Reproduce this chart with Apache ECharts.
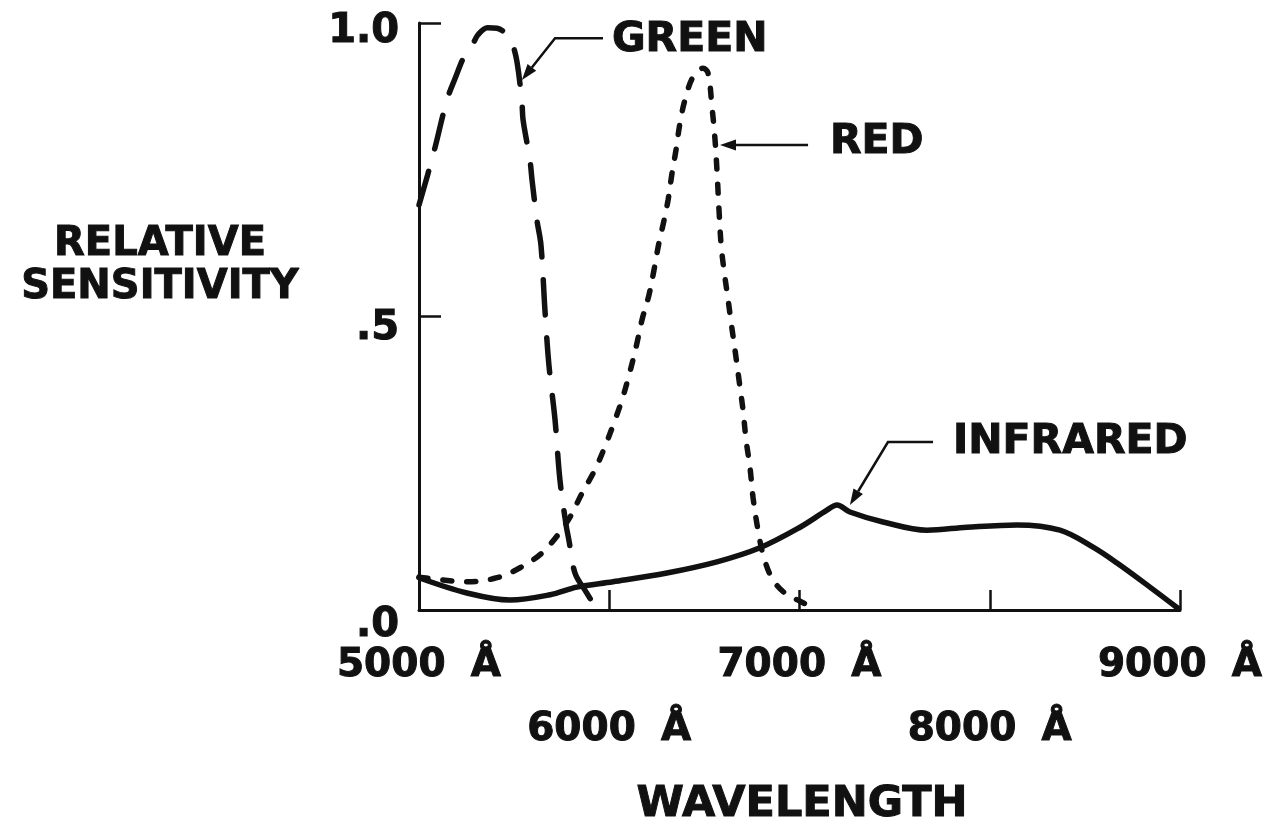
<!DOCTYPE html>
<html><head><meta charset="utf-8">
<script src="https://cdn.jsdelivr.net/npm/echarts@6/dist/echarts.min.js"></script>
<style>html,body{margin:0;padding:0;background:#fff}#c{width:1278px;height:825px}</style>
</head><body><div id="c"></div>
<script>
// ---- data ----
const xRow1Labels = [5000, 7000, 9000];
const xRow2Labels = [6000, 8000];
const yTickLabels = {0: '.0', 0.5: '.5', 1: '1.0'};
const seriesNames = ['GREEN', 'RED', 'INFRARED'];
const green = [[5000,0.69],[5074,0.775],[5147,0.869],[5189,0.905],[5240,0.945],[5284,0.965],[5310,0.980],[5360,0.992],[5410,0.991],[5460,0.981],[5489,0.966],[5515,0.934],[5541,0.865],[5547,0.835],[5583,0.767],[5594,0.733],[5620,0.664],[5641,0.622],[5662,0.511],[5683,0.417],[5715,0.324],[5741,0.221],[5773,0.145],[5788,0.119],[5820,0.063],[5878,0.031],[5936,0.0]];
const red = [[5000,0.056],[5126,0.051],[5258,0.048],[5410,0.055],[5531,0.072],[5652,0.099],[5778,0.150],[5857,0.199],[5925,0.239],[5978,0.279],[6025,0.319],[6067,0.358],[6104,0.400],[6141,0.448],[6172,0.494],[6209,0.537],[6235,0.579],[6261,0.625],[6288,0.664],[6309,0.698],[6330,0.744],[6351,0.784],[6372,0.830],[6398,0.869],[6440,0.908],[6493,0.923],[6519,0.915],[6540,0.857],[6556,0.801],[6567,0.744],[6577,0.681],[6588,0.622],[6603,0.579],[6625,0.528],[6640,0.491],[6661,0.443],[6682,0.392],[6703,0.341],[6719,0.290],[6740,0.242],[6756,0.191],[6782,0.136],[6813,0.089],[6861,0.051],[6934,0.026],[7003,0.015],[7071,0.003]];
const infrared = [[5000,0.055],[5252,0.029],[5478,0.017],[5689,0.026],[5830,0.039],[6020,0.048],[6303,0.063],[6566,0.082],[6792,0.106],[7003,0.141],[7144,0.170],[7197,0.179],[7265,0.167],[7439,0.150],[7670,0.136],[7880,0.141],[8143,0.145],[8369,0.136],[8543,0.107],[8669,0.080],[8842,0.039],[8989,0.003]];
// annotation anchors (data coordinates): label start, leader path ending at arrow tip
const annotations = [
  {text: 'GREEN', at: [6014, 0.971], path: [[5967,0.974],[5715,0.974],[5541,0.903]]},
  {text: 'RED', at: [7160, 0.796], path: [[7045,0.792],[6582,0.792]]},
  {text: 'INFRARED', at: [7807, 0.286], path: [[7702,0.286],[7465,0.286],[7265,0.179]]}
];

const FONT = '"DejaVu Sans", sans-serif';
const INK = '#111';
const chart = echarts.init(document.getElementById('c'), null, {renderer: 'canvas'});

const heavy = {textBorderColor: INK, textBorderWidth: 1};
const numStyle = Object.assign({fontSize: 39, fontWeight: 'bold', fontFamily: FONT, color: INK}, heavy);
const angStyle = Object.assign({}, numStyle, {padding: [0, 0, 0, 22]});

function xFmt(list) {
  return function (v) { return list.indexOf(v) >= 0 ? '{n|' + v + '} {a|Å}' : ''; };
}

chart.setOption({
  backgroundColor: '#fff',
  animation: false,
  grid: {left: 419, right: 98, top: 23, bottom: 215, containLabel: false},
  xAxis: [{
    type: 'value', min: 5000, max: 9000, interval: 1000, position: 'bottom',
    axisLine: {show: true, lineStyle: {color: INK, width: 3}},
    axisTick: {show: true, inside: true, length: 20, lineStyle: {color: INK, width: 2.5}},
    splitLine: {show: false},
    axisLabel: {margin: 36, formatter: xFmt(xRow1Labels), rich: {n: numStyle, a: angStyle}}
  }, {
    type: 'value', min: 5000, max: 9000, interval: 1000, position: 'bottom',
    axisLine: {show: false}, axisTick: {show: false}, splitLine: {show: false},
    axisLabel: {margin: 100, formatter: xFmt(xRow2Labels), rich: {n: numStyle, a: angStyle}}
  }],
  yAxis: {
    type: 'value', min: 0, max: 1, interval: 0.5,
    axisLine: {show: true, lineStyle: {color: INK, width: 3}},
    axisTick: {show: true, inside: true, length: 22, lineStyle: {color: INK, width: 2.5}},
    splitLine: {show: false},
    axisLabel: {
      margin: 20,
      formatter: function (v) {
        const key = v === 0 ? 'z' : (v === 1 ? 'o' : 'h');
        return '{' + key + '|' + yTickLabels[v] + '}';
      },
      rich: {
        o: Object.assign({}, numStyle, {fontSize: 40, padding: [18, 0, 0, 0]}),
        h: Object.assign({}, numStyle, {fontSize: 40, padding: [24, 0, 0, 0]}),
        z: Object.assign({}, numStyle, {fontSize: 40, padding: [32, 0, 0, 0]})
      }
    }
  },
  series: [{
    name: seriesNames[0], type: 'line', data: green, showSymbol: false, smooth: 0.35,
    lineStyle: {color: INK, width: 5.5, type: [35, 23], cap: 'round'}
  }, {
    name: seriesNames[1], type: 'line', data: red, showSymbol: false, smooth: 0.35,
    lineStyle: {color: INK, width: 5.5, type: [9, 15], cap: 'round'}
  }, {
    name: seriesNames[2], type: 'line', data: infrared, showSymbol: false, smooth: 0.35,
    lineStyle: {color: INK, width: 5.5, cap: 'round', join: 'round'}
  }]
});

function px(p) { return chart.convertToPixel({xAxisIndex: 0, yAxisIndex: 0}, p); }

const textBase = {fontWeight: 'bold', fontFamily: FONT, fill: INK, stroke: INK, lineWidth: 1};
const graphics = [];
annotations.forEach(function (a) {
  const pts = a.path.map(px);
  const tip = pts[pts.length - 1], prev = pts[pts.length - 2];
  const dx = tip[0] - prev[0], dy = tip[1] - prev[1];
  const L = Math.sqrt(dx * dx + dy * dy), ux = dx / L, uy = dy / L;
  const hl = 16, hw = 5.5;
  const base = [tip[0] - ux * hl, tip[1] - uy * hl];
  const linePts = pts.slice(0, -1).concat([base]);
  graphics.push({type: 'polyline', shape: {points: linePts}, style: {stroke: INK, lineWidth: 2.5, fill: null}, silent: true});
  graphics.push({type: 'polygon', shape: {points: [tip, [base[0] - uy * hw, base[1] + ux * hw], [base[0] + uy * hw, base[1] - ux * hw]]}, style: {fill: INK}, silent: true});
  const t = px(a.at);
  graphics.push({type: 'text', x: t[0], y: t[1], style: Object.assign({text: a.text, fontSize: 41, textAlign: 'left', textVerticalAlign: 'middle', align: 'left', verticalAlign: 'middle'}, textBase), silent: true});
});
graphics.push({type: 'text', x: 160, y: 266, style: Object.assign({text: 'RELATIVE\nSENSITIVITY', fontSize: 40, lineHeight: 43, textAlign: 'center', textVerticalAlign: 'middle', align: 'center', verticalAlign: 'middle'}, textBase), silent: true});
graphics.push({type: 'text', x: 802, y: 805, style: Object.assign({text: 'WAVELENGTH', fontSize: 43, textAlign: 'center', textVerticalAlign: 'middle', align: 'center', verticalAlign: 'middle'}, textBase), silent: true});
chart.setOption({graphic: graphics});
</script>
</body></html>
